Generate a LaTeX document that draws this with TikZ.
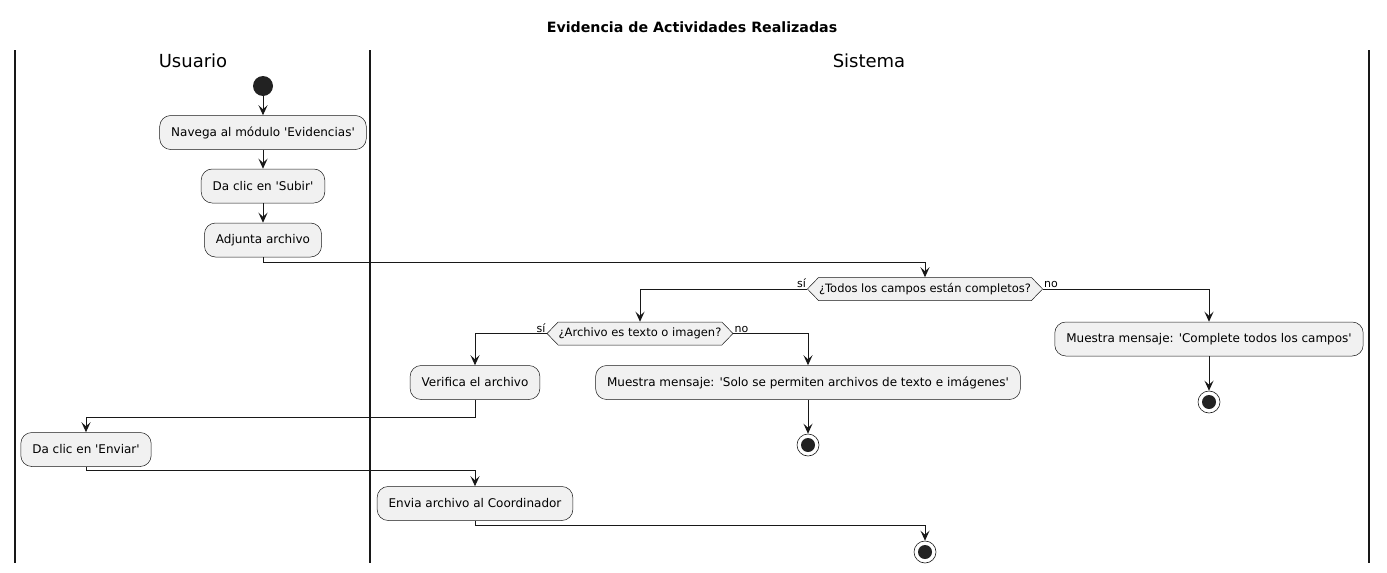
\documentclass[tikz,border=0pt]{standalone}
\usepackage{fontspec}
\setmainfont{DejaVu Sans}
\usetikzlibrary{positioning, arrows.meta, shapes.symbols}
\definecolor{plantline}{HTML}{181818}
\definecolor{plantfill}{HTML}{F1F1F1}
\definecolor{plantdot}{HTML}{222222}

\begin{document}
\begin{tikzpicture}
    [
        x=1pt, y=1pt, on grid,
        action_node/.style={rectangle, rounded corners=11pt, draw=plantline, line width=0.5pt, fill=plantfill, minimum height=34pt, inner xsep=11.5pt, font=\fontsize{12}{14}\selectfont},
        decision_node/.style={signal, signal to=east and west, signal pointer angle=92, draw=plantline, line width=0.5pt, fill=plantfill, minimum height=23pt, inner xsep=0.5pt, inner ysep=2pt, font=\fontsize{11.5}{13}\selectfont},
        start_node/.style={circle, fill=plantdot, minimum size=20pt, inner sep=0pt},
        end_node/.style={circle, draw=plantline, line width=0.6pt, fill=white, minimum size=22pt, inner sep=0pt, path picture={\fill[plantdot] (path picture bounding box.center) circle (7pt);}},
        branch_label/.style={inner sep=1pt, font=\fontsize{11}{13}\selectfont},
        lane_line/.style={line width=1.5pt, color=plantline},
        flow/.style={-{Stealth[length=10pt, width=9pt, inset=4pt]}, line width=1pt, color=plantline},
    ]
        \useasboundingbox (0,0) rectangle (1387,-573);
        \node[font=\fontsize{14.2}{16}\selectfont\bfseries] (title) at (692,-27) {Evidencia de Actividades Realizadas} ;
        \foreach \x in {15,370,1369}
            \draw[lane_line] (\x,-50) -- (\x,-563) ;
        \node[font=\fontsize{18}{20}\selectfont] (usuario) at (193,-61) {Usuario} ;
        \node[font=\fontsize{18}{20}\selectfont] (sistema) at (869,-61) {Sistema} ;
        \node[start_node] (start) at (263,-86) {} ;
        \node[action_node] (nav) [below = 46.5pt of start] {Navega al módulo \textquotesingle Evidencias\textquotesingle} ;
        \node[action_node] (subir) [below = 53.5pt of nav] {Da clic en \textquotesingle Subir\textquotesingle} ;
        \node[action_node] (adj) [below = 54pt of subir] {Adjunta archivo} ;
        \node[decision_node, label={[branch_label, anchor=south east]west:sí}, label={[branch_label, anchor=south west]east:no}] (campos) at (925,-289) {¿Todos los campos están completos?} ;
        \node[action_node] (complete) at (1209,-339) {Muestra mensaje: \textquotesingle Complete todos los campos\textquotesingle} ;
        \node[end_node] (end2) [below = 63pt of complete] {} ;
        \node[decision_node, label={[branch_label, anchor=south east]west:sí}, label={[branch_label, anchor=south west]east:no}] (tipo) at (640,-333.5) {¿Archivo es texto o imagen?} ;
        \node[action_node] (verifica) at (475,-382.5) {Verifica el archivo} ;
        \node[action_node] (solo) at (808,-382.5) {Muestra mensaje: \textquotesingle Solo se permiten archivos de texto e imágenes\textquotesingle} ;
        \node[end_node] (end1) [below = 62.5pt of solo] {} ;
        \node[action_node] (enviar) at (86,-449.5) {Da clic en \textquotesingle Enviar\textquotesingle} ;
        \node[action_node] (envia) at (475,-503.5) {Envia archivo al Coordinador} ;
        \node[end_node] (end3) at (925,-552) {} ;
        \draw[flow] (start) -- (nav) ;
        \draw[flow] (nav) -- (subir) ;
        \draw[flow] (subir) -- (adj) ;
        \draw[flow] (adj.south) -- ++(0,-5) -| (campos.north) ;
        \draw[flow] (campos.west) -| (tipo.north) ;
        \draw[flow] (campos.east) -| (complete.north) ;
        \draw[flow] (complete) -- (end2) ;
        \draw[flow] (tipo.west) -| (verifica.north) ;
        \draw[flow] (tipo.east) -| (solo.north) ;
        \draw[flow] (solo) -- (end1) ;
        \draw[flow] (verifica.south) -- ++(0,-17.5) -| (enviar.north) ;
        \draw[flow] (enviar.south) -- ++(0,-4) -| (envia.north) ;
        \draw[flow] (envia.south) -- ++(0,-5) -| (end3.north) ;
    \end{tikzpicture}
\end{document}
